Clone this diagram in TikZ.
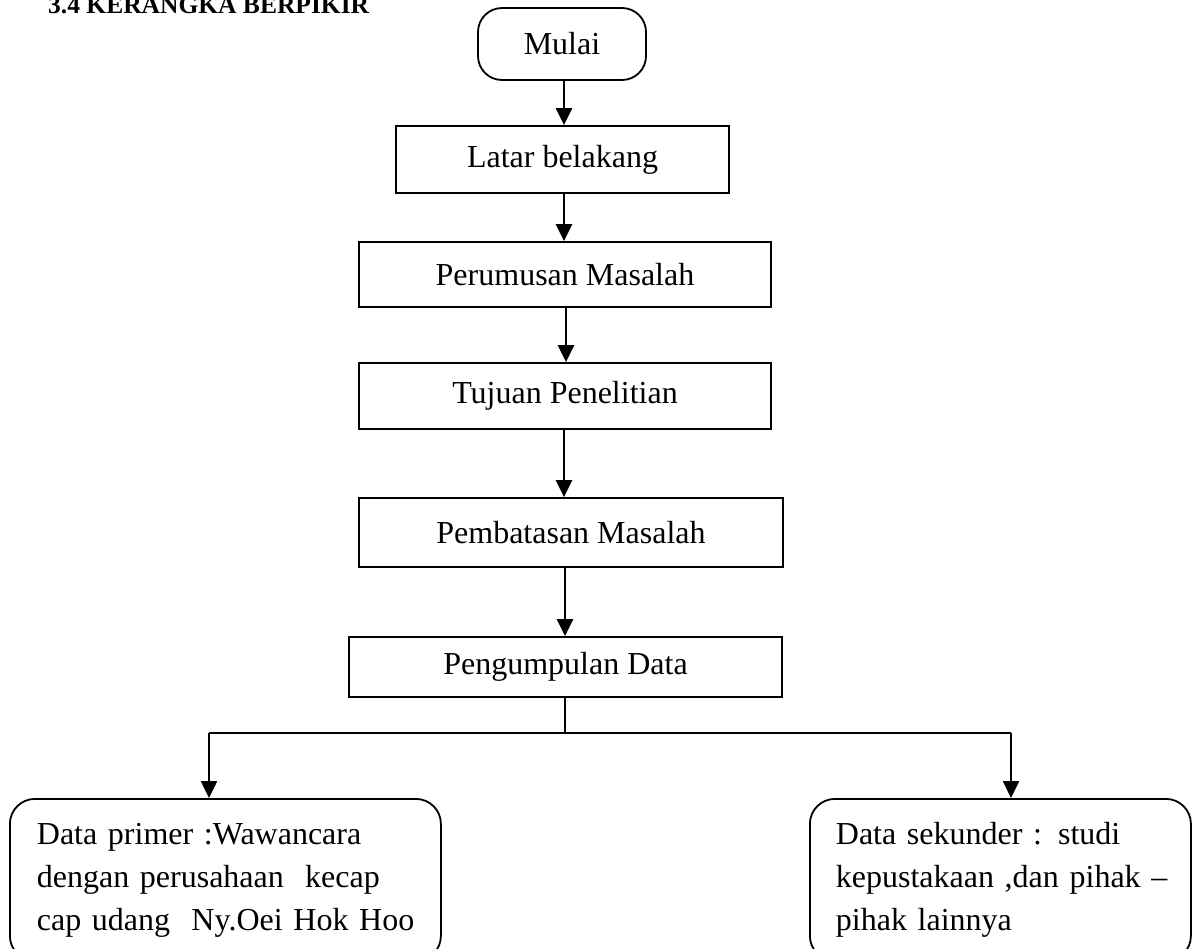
\documentclass[tikz,border=0pt]{standalone}
\usepackage{fontspec}
\setmainfont{Liberation Serif}
\usetikzlibrary{arrows.meta}
\begin{document}
\begin{tikzpicture}[x=1pt,y=-1pt,
  box/.style={draw, line width=1.8pt, rectangle, inner sep=0pt,
    font=\fontsize{32}{43}\selectfont},
  roundbox/.style={box, rounded corners=25pt, align=left},
  arr/.style={line width=2.5pt, -{Triangle[width=16pt,length=17pt]}},
  link/.style={line width=1.8pt}]
  \useasboundingbox (0,0) rectangle (1193,948);
  \clip (0,0) rectangle (1193,948);

  % heading
  \node[anchor=base west, inner sep=0pt, font=\fontsize{25.5}{30}\selectfont\bfseries]
    (title) at (48,13) {3.4 KERANGKA BERPIKIR};

  % main column of steps
  \node[box, rounded corners=24pt, minimum width=168pt, minimum height=72pt]
    (mulai) at (562,44) {Mulai};
  \node[box, minimum width=333pt, minimum height=67pt] (latar) at (562.5,159.5) {Latar belakang};
  \node[box, minimum width=412pt, minimum height=65pt] (rumus) at (565,274.5) {Perumusan Masalah};
  \node[box, minimum width=412pt, minimum height=66pt] (tujuan) at (565,396) {Tujuan Penelitian};
  \node[box, minimum width=424pt, minimum height=69pt] (batas) at (571,532.5) {Pembatasan Masalah};
  \node[box, minimum width=433pt, minimum height=60pt] (kumpul) at (565.5,667) {Pengumpulan Data};

  % the two data sources
  \node[roundbox, anchor=north west, minimum width=431pt, minimum height=162pt,
        text width=377pt, inner xsep=27pt] (primer) at (9,798)
    {\mbox{Data primer :Wawancara}\\
     \mbox{dengan perusahaan\ \ kecap}\\
     \mbox{cap udang\ \ Ny.Oei Hok Hoo}};
  \node[roundbox, anchor=north west, minimum width=381pt, minimum height=162pt,
        text width=329pt, inner xsep=26pt] (sekunder) at (809,798)
    {\mbox{Data sekunder : studi}\\
     \mbox{kepustakaan ,dan pihak –}\\
     \mbox{pihak lainnya}};

  % connectors
  \coordinate (axis) at (564,0);
  \coordinate (split) at (565,733);
  \coordinate (lbranch) at (209,733);
  \coordinate (rbranch) at (1011,733);

  \draw[arr] (mulai.south -| axis) -- (latar.north -| axis);
  \draw[arr] (latar.south -| axis) -- (rumus.north -| axis);
  \draw[arr] ([xshift=2pt]rumus.south -| axis) -- ([xshift=2pt]tujuan.north -| axis);
  \draw[arr] (tujuan.south -| axis) -- (batas.north -| axis);
  \draw[arr] ([xshift=1pt]batas.south -| axis) -- ([xshift=1pt]kumpul.north -| axis);
  \draw[link] (kumpul.south -| split) -- (split);
  \draw[link] (lbranch) -- (rbranch);
  \draw[arr] (lbranch) -- (lbranch |- primer.north);
  \draw[arr] (rbranch) -- (rbranch |- sekunder.north);
\end{tikzpicture}
\end{document}
